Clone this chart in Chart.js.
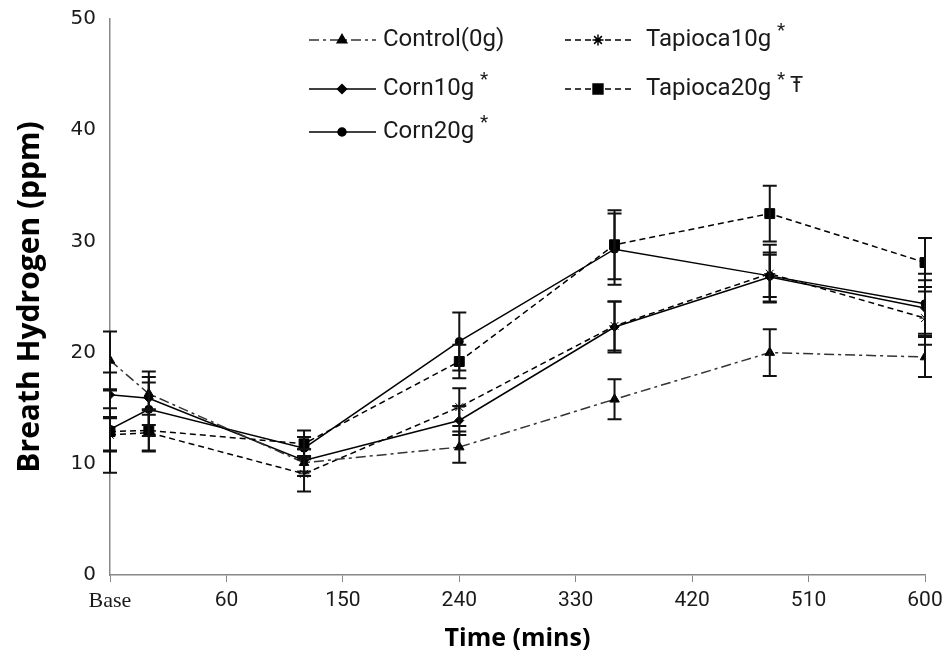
<!DOCTYPE html>
<html>
<head>
<meta charset="utf-8">
<script src="https://cdn.jsdelivr.net/npm/chart.js@4.4.0/dist/chart.umd.min.js"></script>
<style>
  html, body { margin: 0; padding: 0; background: #fff; }
</style>
</head>
<body>
<canvas id="breath-hydrogen" width="950" height="662"></canvas>
<script>
"use strict";

// sampling times (mins), baseline drawn at -30
const timeMins = [-30, 0, 120, 240, 360, 480, 600];
const xTickValues = [-30, 60, 150, 240, 330, 420, 510, 600];
const xTickLabels = ['Base', '60', '150', '240', '330', '420', '510', '600'];

const seriesNames = ['Control(0g)', 'Corn10g', 'Corn20g', 'Tapioca10g', 'Tapioca20g'];
const seriesMarks = ['', '*', '*', '*', '*'];
const seriesExtra = ['', '', '', '', 'Ŧ'];

const controlMean = [19.3, 16.3, 10.1, 11.5, 15.8, 20.0, 19.6];
const controlErr = [2.6, 1.5, 1.2, 1.4, 1.8, 2.1, 1.8];
const corn10Mean = [16.2, 15.9, 10.3, 13.9, 22.3, 26.8, 24.0];
const corn10Err = [2.0, 2.4, 1.0, 1.3, 2.3, 2.2, 2.5];
const corn20Mean = [13.1, 14.9, 11.4, 21.0, 29.3, 26.9, 24.4];
const corn20Err = [1.9, 2.4, 1.0, 2.6, 3.2, 1.9, 2.7];
const tapioca10Mean = [12.6, 12.8, 9.1, 15.1, 22.4, 27.1, 23.1];
const tapioca10Err = [1.5, 1.6, 1.6, 1.7, 2.2, 2.6, 2.4];
const tapioca20Mean = [12.9, 13.0, 11.8, 19.2, 29.7, 32.5, 28.1];
const tapioca20Err = [3.7, 1.9, 1.2, 1.5, 3.1, 2.5, 2.2];


function toPoints(values) {
    return values.map((v, i) => ({x: timeMins[i], y: v}));
}

function makeSeries(idx, values, errors, style) {
    return Object.assign({
        label: seriesNames[idx],
        data: toPoints(values),
        errors: errors,
        borderColor: '#000',
        backgroundColor: '#000',
        pointBackgroundColor: '#000',
        pointBorderColor: '#000',
        borderWidth: 1.5,
        pointBorderWidth: 1,
        tension: 0
    }, style);
}

const errorBars = {
    id: 'errorBars',
    afterDatasetsDraw(chart) {
        const ctx = chart.ctx;
        const x = chart.scales.x;
        const y = chart.scales.y;
        ctx.save();
        ctx.strokeStyle = '#111';
        ctx.lineWidth = 2;
        chart.data.datasets.forEach(ds => {
            ds.errors.forEach((e, j) => {
                const p = ds.data[j];
                const px = x.getPixelForValue(p.x);
                const top = y.getPixelForValue(p.y + e);
                const bot = y.getPixelForValue(p.y - e);
                ctx.beginPath();
                ctx.moveTo(px, top);
                ctx.lineTo(px, bot);
                ctx.moveTo(px - 7, top);
                ctx.lineTo(px + 7, top);
                ctx.moveTo(px - 7, bot);
                ctx.lineTo(px + 7, bot);
                ctx.stroke();
            });
        });
        ctx.restore();
    }
};

// legend inside the plot, two columns like the original
const insideLegend = {
    id: 'insideLegend',
    afterDraw(chart) {
        const ctx = chart.ctx;
        const slots = [[0, 0], [0, 1], [0, 2], [1, 0], [1, 1]];
        const colX = [309, 565];
        const colText = [383, 646];
        const rowY = [40, 89, 132];
        ctx.save();
        chart.data.datasets.forEach((ds, i) => {
            const col = slots[i][0];
            const yy = rowY[slots[i][1]];
            const x0 = colX[col];
            ctx.strokeStyle = ds.borderColor;
            ctx.lineWidth = ds.borderWidth;
            ctx.setLineDash(ds.borderDash || []);
            ctx.beginPath();
            ctx.moveTo(x0, yy);
            ctx.lineTo(x0 + 67, yy);
            ctx.stroke();
            ctx.setLineDash([]);
            ctx.fillStyle = '#000';
            ctx.strokeStyle = '#000';
            Chart.helpers.drawPoint(ctx, {
                pointStyle: ds.pointStyle,
                radius: ds.pointRadius,
                rotation: 0,
                borderWidth: 1
            }, x0 + 33, yy);

            ctx.fillStyle = '#1a1a1a';
            ctx.font = '24px Roboto';
            ctx.textBaseline = 'middle';
            ctx.textAlign = 'left';
            let tx = colText[col];
            ctx.fillText(ds.label, tx, yy);
            tx += ctx.measureText(ds.label + ' ').width;
            if (seriesMarks[i]) {
                ctx.font = '19px Roboto';
                ctx.fillText(seriesMarks[i], tx, yy - 9);
                tx += ctx.measureText(seriesMarks[i] + ' ').width;
            }
            if (seriesExtra[i]) {
                ctx.font = '22px Roboto';
                ctx.fillText(seriesExtra[i], tx, yy - 3);
            }
        });
        ctx.restore();
    }
};


const ctx = document.getElementById('breath-hydrogen').getContext('2d');
const breathChart = new Chart(ctx, {
    type: 'line',
    data: {
        datasets: [
            makeSeries(0, controlMean, controlErr, {
                borderColor: '#333',
                borderDash: [10, 4, 3, 4],
                pointStyle: 'triangle',
                pointRadius: 5.5
            }),
            makeSeries(1, corn10Mean, corn10Err, {
                pointStyle: 'rectRot',
                pointRadius: 4.5
            }),
            makeSeries(2, corn20Mean, corn20Err, {
                pointStyle: 'circle',
                pointRadius: 4
            }),
            makeSeries(3, tapioca10Mean, tapioca10Err, {
                borderDash: [6, 4],
                pointStyle: 'star',
                pointRadius: 5.5
            }),
            makeSeries(4, tapioca20Mean, tapioca20Err, {
                borderDash: [6, 4],
                pointStyle: 'rect',
                pointRadius: 7
            })
        ]
    },
    options: {
        responsive: false,
        animation: false,
        layout: {
            padding: {top: 19, right: 25, left: 0, bottom: 0}
        },
        scales: {
            x: {
                type: 'linear',
                min: -30,
                max: 600,
                afterBuildTicks: scale => {
                    scale.ticks = xTickValues.map(v => ({value: v}));
                },
                afterFit: scale => {
                    scale.height = 87;
                },
                grid: {
                    display: true,
                    drawOnChartArea: false,
                    drawTicks: true,
                    tickLength: 7,
                    color: '#888'
                },
                border: {
                    display: true,
                    color: '#888',
                    width: 1.5
                },
                ticks: {
                    color: '#1a1a1a',
                    padding: 6,
                    maxRotation: 0,
                    autoSkip: false,
                    font: c => c.index === 0
                        ? {family: 'Liberation Serif', size: 22}
                        : {family: 'Roboto', size: 21},
                    callback: (value, index) => xTickLabels[index]
                },
                title: {
                    display: true,
                    text: 'Time (mins)',
                    color: '#000',
                    font: {family: 'Open Sans', size: 25, weight: 'bold'},
                    padding: {top: 0, bottom: 8}
                }
            },
            y: {
                min: 0,
                max: 50,
                afterFit: scale => {
                    scale.width = 110;
                    scale.paddingTop = 0;
                    scale.paddingBottom = 0;
                },
                grid: {
                    display: false,
                    drawTicks: false
                },
                border: {
                    display: true,
                    color: '#888',
                    width: 1.5
                },
                ticks: {
                    stepSize: 10,
                    color: '#1a1a1a',
                    padding: 14,
                    font: {family: 'DejaVu Sans', size: 20}
                },
                title: {
                    display: true,
                    text: 'Breath Hydrogen (ppm)',
                    color: '#000',
                    font: {family: 'Open Sans', size: 30, weight: 'bold'},
                    padding: {top: 12, bottom: 0}
                }
            }
        },
        plugins: {
            legend: {
                display: false
            },
            tooltip: {
                enabled: false
            }
        }
    },
    plugins: [errorBars, insideLegend]
});
</script>
</body>
</html>
